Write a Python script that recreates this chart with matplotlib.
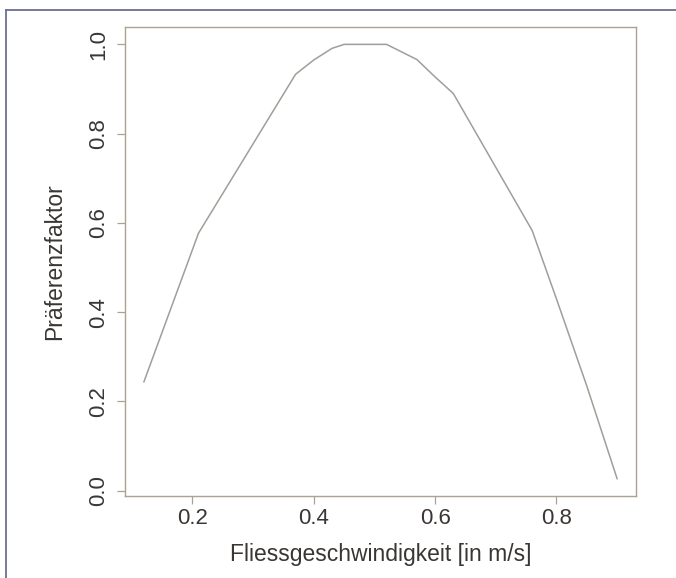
import matplotlib
matplotlib.use("Agg")
import matplotlib.pyplot as plt
from matplotlib.lines import Line2D

plt.rcParams['font.family'] = ['Liberation Sans', 'DejaVu Sans']

geschwindigkeit = [0.12, 0.21, 0.37, 0.40, 0.43, 0.45, 0.52, 0.57, 0.60, 0.63, 0.76, 0.80, 0.85, 0.90]
praeferenz = [0.244, 0.577, 0.933, 0.965, 0.991, 1.0, 1.0, 0.966, 0.927, 0.89, 0.583, 0.43, 0.235, 0.027]

x_ticks = [0.2, 0.4, 0.6, 0.8]
y_ticks = [0.0, 0.2, 0.4, 0.6, 0.8, 1.0]

line_col = '#a29d98'
box_col = '#aaa292'
text_col = '#3a3634'

fig = plt.figure(figsize=(6.76, 5.78), dpi=100)
ax = fig.add_axes([125 / 676, 1 - 496 / 578, 511 / 676, 469 / 578])

ax.plot(geschwindigkeit, praeferenz, color=line_col, lw=1.1)

# R-Stil: Achsenbereich um 4 % erweitert
xr = max(geschwindigkeit) - min(geschwindigkeit)
yr = max(praeferenz) - min(praeferenz)
ax.set_xlim(min(geschwindigkeit) - 0.04 * xr, max(geschwindigkeit) + 0.04 * xr)
ax.set_ylim(min(praeferenz) - 0.04 * yr, max(praeferenz) + 0.04 * yr)

ax.set_xticks(x_ticks)
ax.set_xticklabels([f'{v:.1f}' for v in x_ticks])
ax.set_yticks(y_ticks)
ax.set_yticklabels([f'{v:.1f}' for v in y_ticks], rotation=90, va='center')

for s in ax.spines.values():
    s.set_color(box_col)
    s.set_linewidth(1.0)
ax.tick_params(direction='out', length=5.5, width=0.9, color=box_col,
               labelsize=16, labelcolor=text_col)
ax.tick_params(axis='x', pad=3)
ax.tick_params(axis='y', pad=6)

ax.set_xlabel('Fliessgeschwindigkeit [in m/s]', fontsize=16.5, color=text_col, labelpad=10)
ax.set_ylabel('Präferenzfaktor', fontsize=16.5, color=text_col, labelpad=16)

# Rahmen oben und links
rc = '#6b7090'
fig.add_artist(Line2D([6 / 676, 1.0], [1 - 10 / 578, 1 - 10 / 578], color=rc, lw=1.3, transform=fig.transFigure))
fig.add_artist(Line2D([6 / 676, 6 / 676], [0.0, 1 - 10 / 578], color=rc, lw=1.3, transform=fig.transFigure))

fig.savefig('out.png', dpi=100)
